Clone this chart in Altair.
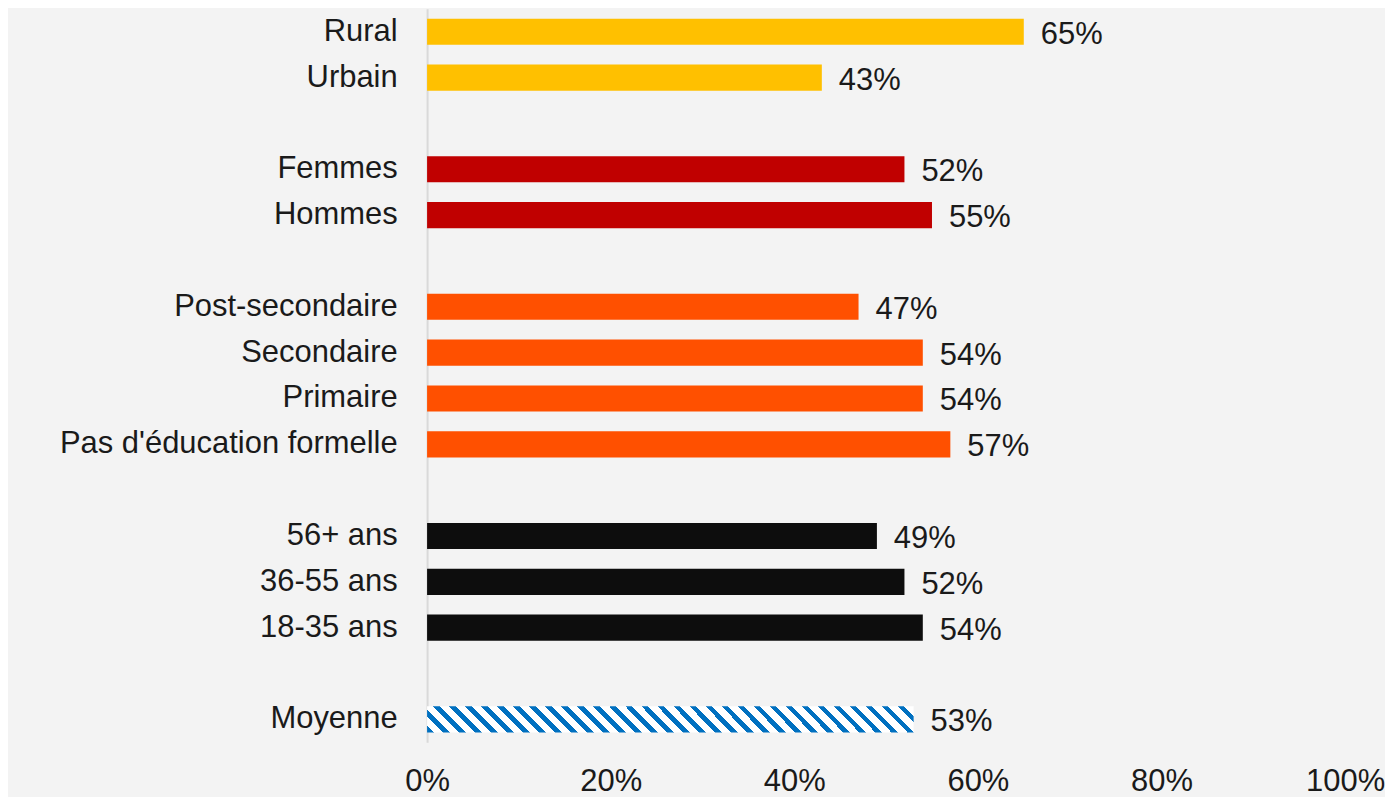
import altair as alt
import pandas as pd

categories = ["Rural", "Urbain", " ", "Femmes", "Hommes", "  ",
              "Post-secondaire", "Secondaire", "Primaire", "Pas d'éducation formelle", "   ",
              "56+ ans", "36-55 ans", "18-35 ans", "    ", "Moyenne"]
labels = ["Rural", "Urbain", "Femmes", "Hommes",
          "Post-secondaire", "Secondaire", "Primaire", "Pas d'éducation formelle",
          "56+ ans", "36-55 ans", "18-35 ans", "Moyenne"]
values = [0.65, 0.43, 0.52, 0.55, 0.47, 0.54, 0.54, 0.57, 0.49, 0.52, 0.54, 0.53]
groups = ["Milieu", "Milieu", "Genre", "Genre",
          "Éducation", "Éducation", "Éducation", "Éducation",
          "Âge", "Âge", "Âge", "Moyenne"]

group_domain = ["Milieu", "Genre", "Éducation", "Âge"]
group_colors = ["#FFC000", "#C00000", "#FF5000", "#0D0D0D"]

df = pd.DataFrame({"cat": labels, "val": values, "grp": groups})

FONT = "Liberation Sans"
FS = 31

y_enc = alt.Y("cat:N", sort=categories,
              scale=alt.Scale(domain=categories, paddingInner=0.43, paddingOuter=0.215),
              axis=alt.Axis(title=None, ticks=False, labelPadding=30, minExtent=420,
                            labelLimit=0,
                            labelFont=FONT, labelFontSize=FS, labelColor="#1a1a1a",
                            domainColor="#d9d9d9", domainWidth=2, grid=False))
x_enc = alt.X("val:Q", scale=alt.Scale(domain=[0, 1]),
              axis=alt.Axis(title=None, format=".0%", values=[0, 0.2, 0.4, 0.6, 0.8, 1.0],
                            ticks=False, domain=False, grid=False, labelPadding=24,
                            labelFlush=False, labelOverlap=False,
                            labelFont=FONT, labelFontSize=FS, labelColor="#1a1a1a"))

base = alt.Chart(df)

bars = base.transform_filter(alt.datum.grp != "Moyenne").mark_bar().encode(
    x=x_enc, y=y_enc,
    color=alt.Color("grp:N", scale=alt.Scale(domain=group_domain, range=group_colors), legend=None),
)

# diagonal stripe fill for the average bar
k = 26 / 487.6
period = 16 / (487.6 * (1 + k))
blue_frac = 0.42
stops = []
t = 0.0
while t < 1.0:
    stops.append(alt.GradientStop(color="#0070C0", offset=min(t, 1.0)))
    stops.append(alt.GradientStop(color="#0070C0", offset=min(t + period * blue_frac, 1.0)))
    stops.append(alt.GradientStop(color="#FFFFFF", offset=min(t + period * blue_frac, 1.0)))
    stops.append(alt.GradientStop(color="#FFFFFF", offset=min(t + period, 1.0)))
    t += period
stripe = alt.LinearGradient(gradient="linear", stops=stops,
                            x1=0, y1=1, x2=1 + k, y2=1 - k * (1 + k))

avg = base.transform_filter(alt.datum.grp == "Moyenne").mark_bar(fill=stripe).encode(
    x=x_enc, y=y_enc
)

text = base.mark_text(align="left", baseline="middle", dx=17, dy=3,
                      font=FONT, fontSize=FS, color="#1a1a1a").encode(
    x=x_enc, y=y_enc, text=alt.Text("val:Q", format=".0%")
)

chart = alt.layer(bars, avg, text).properties(
    width=920, height=735, padding=0, background="#f3f3f3"
).configure_view(stroke=None)

chart.save("out.html", embed_options={"renderer": "svg", "actions": False})
